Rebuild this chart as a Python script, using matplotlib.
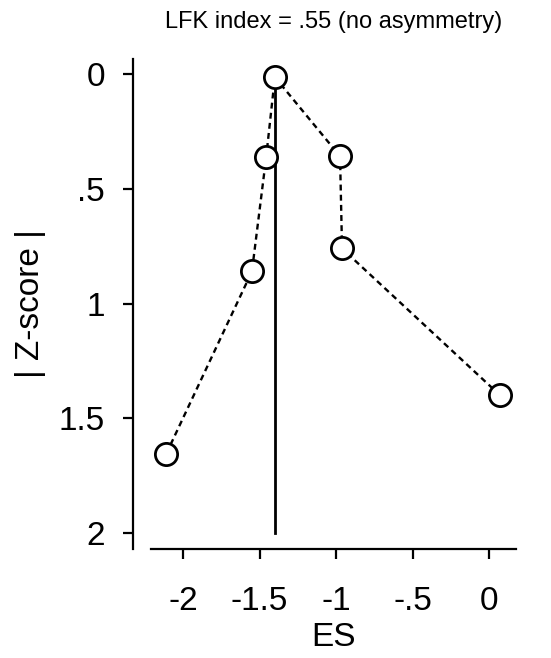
import numpy as np
import matplotlib.pyplot as plt

# Doi plot data (ES vs |Z-score|), in drawing order
es = [-2.11, -1.55, -1.457, -1.40, -0.974, -0.961, 0.072]
zscore = [1.655, 0.86, 0.362, 0.013, 0.358, 0.76, 1.40]
es_line = -1.397
z_range = [0.013, 2.0]

xticks = [-2, -1.5, -1, -0.5, 0]
xticklabels = ['-2', '-1.5', '-1', '-.5', '0']
yticks = [0, 0.5, 1, 1.5, 2]
yticklabels = ['0', '.5', '1', '1.5', '2']

plt.rcParams['font.family'] = ['Liberation Sans', 'DejaVu Sans']

fig = plt.figure(figsize=(5.51, 6.58), dpi=100)
ax = fig.add_axes([0.274, 0.1657, 0.6624, 0.7446])

ax.plot([es_line, es_line], z_range, color='black', lw=2.0, zorder=2)
ax.plot(es, zscore, color='black', lw=1.7, ls=(0, (2.5, 1.8)), zorder=3)
ax.plot(es, zscore, 'o', ms=16, mfc='white', mec='black', mew=2.0, zorder=4)

ax.set_xlim(-2.21, 0.176)
ax.set_ylim(2.07, -0.066)

ax.set_xticks(xticks)
ax.set_xticklabels(xticklabels)
ax.set_yticks(yticks)
ax.set_yticklabels(yticklabels)

for s in ['top', 'right']:
    ax.spines[s].set_visible(False)
for s in ['left', 'bottom']:
    ax.spines[s].set_linewidth(1.6)
ax.spines['left'].set_position(('outward', 13))

ax.tick_params(axis='both', length=7, width=1.6, labelsize=24)
ax.tick_params(axis='y', pad=13)
ax.tick_params(axis='x', pad=20)

ax.set_xlabel('ES', fontsize=24, labelpad=3)
ax.set_ylabel('| Z-score |', fontsize=24, labelpad=9)
ax.set_title('LFK index = .55 (no asymmetry)', fontsize=17, pad=22)

fig.savefig('out.png', dpi=100)
